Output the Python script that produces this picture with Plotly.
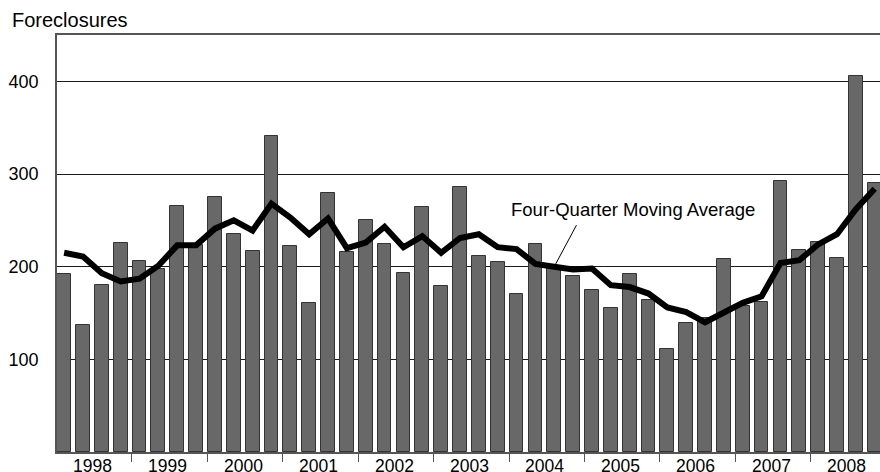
"""
Quarterly foreclosures with a four-quarter moving average (Plotly)
"""

import plotly.graph_objects as go


# Data, 1998 Q1 .. 2008 Q4
YEARS = ['1998', '1999', '2000', '2001', '2002', '2003',
         '2004', '2005', '2006', '2007', '2008']

FORECLOSURES = [192, 137, 180, 226, 206, 197, 266, 223,
                275, 235, 217, 341, 222, 161, 279, 216,
                250, 225, 193, 264, 179, 286, 211, 205,
                170, 225, 201, 190, 175, 155, 192, 164,
                111, 139, 145, 208, 158, 162, 292, 218,
                227, 209, 406, 290]

MOVING_AVG = [215, 211, 193, 184, 187, 201, 223, 223,
              241, 250, 239, 268, 253, 235, 252, 220,
              226, 243, 221, 233, 215, 231, 235, 221,
              219, 203, 200, 197, 198, 180, 178, 171,
              156, 151, 140, 150, 161, 168, 204, 207,
              224, 235, 262, 284]

Y_TICKS = [100, 200, 300, 400]

# Style
COLORS = {
    'bar': '#686868',
    'bar_edge': '#333333',
    'line': '#000000',
    'axis': '#555555',
    'grid': '#1a1a1a',
    'text': '#000000',
}
FONT = 'Liberation Sans, Arial, sans-serif'


def create_foreclosure_chart() -> go.Figure:
    x = list(range(len(FORECLOSURES)))

    fig = go.Figure()

    fig.add_trace(go.Bar(
        x=x,
        y=FORECLOSURES,
        width=0.73,
        marker=dict(color=COLORS['bar'],
                    line=dict(color=COLORS['bar_edge'], width=1)),
        hovertemplate='%{y}<extra></extra>'
    ))

    fig.add_trace(go.Scatter(
        x=x,
        y=MOVING_AVG,
        mode='lines',
        line=dict(color=COLORS['line'], width=6),
        hoverinfo='skip'
    ))

    # tick marks on the boundaries between years
    year_edges = [4 * i - 0.4 for i in range(len(YEARS) + 1)]

    fig.update_layout(
        width=880,
        height=472,
        plot_bgcolor='white',
        paper_bgcolor='white',
        font=dict(family=FONT, size=18, color=COLORS['text']),
        margin=dict(l=57, r=0, t=35, b=20),
        showlegend=False,
        bargap=0
    )

    fig.update_xaxes(
        range=[-0.377, 43.28],
        tickmode='array',
        tickvals=year_edges,
        showticklabels=False,
        ticks='outside',
        ticklen=8,
        tickcolor=COLORS['axis'],
        automargin=False,
        showgrid=False,
        showline=True,
        linecolor=COLORS['axis'],
        linewidth=1.5,
        mirror=True,
        zeroline=False
    )

    fig.update_yaxes(
        range=[0, 450],
        tickmode='array',
        tickvals=Y_TICKS,
        ticks='',
        ticklabelstandoff=13,
        automargin=False,
        showgrid=True,
        gridcolor=COLORS['grid'],
        gridwidth=1,
        showline=True,
        linecolor=COLORS['axis'],
        linewidth=1.5,
        zeroline=False
    )

    # year labels centred under each group of four quarters
    for i, year in enumerate(YEARS):
        fig.add_annotation(
            text=year,
            xref='x', yref='paper',
            x=4 * i + 1.5, y=0,
            xanchor='center', yanchor='top',
            yshift=-2,
            showarrow=False,
            font=dict(size=17.5)
        )

    # axis title in the top-left corner
    fig.add_annotation(
        text='Foreclosures',
        xref='paper', yref='paper',
        x=-0.057, y=1.036,
        xanchor='left', yanchor='middle',
        showarrow=False,
        font=dict(size=20)
    )

    # moving-average label with a thin leader line
    fig.add_annotation(
        text='Four-Quarter Moving Average',
        xref='x', yref='y',
        x=30.2, y=262,
        xanchor='center', yanchor='middle',
        showarrow=False,
        font=dict(size=18.5)
    )
    fig.add_annotation(
        text='',
        xref='x', yref='y',
        x=26, y=MOVING_AVG[26],
        ax=23, ay=-43,
        showarrow=True,
        arrowhead=0,
        arrowwidth=1,
        arrowcolor=COLORS['text']
    )

    return fig


fig = create_foreclosure_chart()
# drop the default page margin so the 880x472 figure fills the window exactly
fig.write_html(
    "out.html",
    config={'responsive': False, 'displayModeBar': False},
    post_script="document.body.style.margin='0';"
                "document.body.style.overflow='hidden';"
)
